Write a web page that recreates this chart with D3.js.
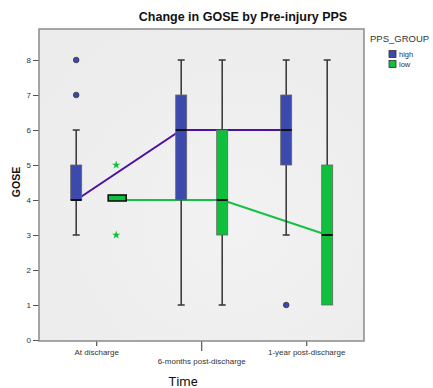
<!DOCTYPE html>
<html>
<head>
<meta charset="utf-8">
<script src="https://cdn.jsdelivr.net/npm/d3@7/dist/d3.min.js"></script>
<style>
  body { margin: 0; background: #fff; }
  svg { display: block; font-family: "Liberation Sans", Arial, sans-serif; }
</style>
</head>
<body>
<svg id="chart" width="433" height="388"></svg>
<script>
// Time points and groups
const timepoints = ["At discharge", "6-months post-discharge", "1-year post-discharge"];
const groups = ["high", "low"];
const groupColors = ["#3c4aae", "#0fc03c"];
const lineColors = ["#4b10a6", "#14c046"];

// Box statistics per group, one entry per time point: [min, q1, median, q3, max]
const highStats = [
  [3, 4, 4, 5, 6],
  [1, 4, 6, 7, 8],
  [3, 5, 6, 7, 8]
];
const lowStats = [
  [4, 4, 4, 4, 4],
  [1, 3, 4, 6, 8],
  [1, 1, 3, 5, 8]
];
// Outliers (circles) and extremes (stars): [time index, value]
const highOutliers = [[0, 7], [0, 8], [2, 1]];
const lowExtremes = [[0, 5], [0, 3]];

const yTicks = [0, 1, 2, 3, 4, 5, 6, 7, 8];

const svg = d3.select("#chart");
const plot = { left: 39, right: 364, top: 29, bottom: 341 };

const defs = svg.append("defs");
const grad = defs.append("radialGradient").attr("id", "bg")
  .attr("cx", "60%").attr("cy", "62%").attr("r", "70%");
grad.append("stop").attr("offset", "0%").attr("stop-color", "#f2f2f2");
grad.append("stop").attr("offset", "100%").attr("stop-color", "#ececec");

svg.append("rect")
  .attr("x", plot.left).attr("y", plot.top)
  .attr("width", plot.right - plot.left).attr("height", plot.bottom - plot.top)
  .attr("fill", "url(#bg)");

const x = d3.scalePoint().domain(timepoints)
  .range([96.7, 306.7]);
const offset = d3.scalePoint().domain(groups).range([-20.5, 20.5]);
const y = d3.scaleLinear().domain([0, 8]).range([340, 60]);

// Y axis
const yAxis = d3.axisLeft(y).tickValues(yTicks).tickSize(6).tickPadding(2);
const yg = svg.append("g").attr("transform", `translate(${plot.left},0)`).call(yAxis);
yg.select(".domain").remove();
yg.selectAll("line").attr("stroke", "#555");
yg.selectAll("text").attr("font-size", 8).attr("fill", "#333");

// X axis ticks and labels
const xg = svg.append("g");
timepoints.forEach((t, i) => {
  const tickLen = i === 1 ? 10 : 5;
  xg.append("line").attr("x1", x(t)).attr("x2", x(t))
    .attr("y1", plot.bottom).attr("y2", plot.bottom + tickLen)
    .attr("stroke", "#555").attr("stroke-width", 1.2);
  xg.append("text").attr("x", x(t)).attr("y", i === 1 ? 364 : 355)
    .attr("text-anchor", "middle").attr("font-size", 8).attr("fill", "#333")
    .text(t);
});

// Frame
svg.append("rect")
  .attr("x", plot.left).attr("y", plot.top)
  .attr("width", plot.right - plot.left).attr("height", plot.bottom - plot.top)
  .attr("fill", "none").attr("stroke", "#8a8a8a").attr("stroke-width", 1.5);

// Median trend lines
const stats = [highStats, lowStats];
const lineGen = d3.line();
groups.forEach((g, gi) => {
  const pts = timepoints.map((t, i) => [x(t) + offset(g), y(stats[gi][i][2])]);
  svg.append("path").attr("d", lineGen(pts))
    .attr("fill", "none").attr("stroke", lineColors[gi]).attr("stroke-width", 2);
});

// Boxes
const boxW = 11;
const capW = 7;
groups.forEach((g, gi) => {
  timepoints.forEach((t, i) => {
    const [mn, q1, md, q3, mx] = stats[gi][i];
    const cx = x(t) + offset(g);
    const grp = svg.append("g");
    if (q1 === q3) {
      // Degenerate box: all quartiles coincide
      grp.append("rect").attr("x", cx - 9).attr("y", y(q1) - 5)
        .attr("width", 18).attr("height", 6)
        .attr("fill", groupColors[gi]).attr("stroke", "#111").attr("stroke-width", 1.6);
      return;
    }
    // Whiskers
    [[mn, q1], [q3, mx]].forEach(([a, b]) => {
      if (a === b) return;
      grp.append("line").attr("x1", cx).attr("x2", cx)
        .attr("y1", y(a)).attr("y2", y(b))
        .attr("stroke", "#333").attr("stroke-width", 1.5);
    });
    [mn, mx].forEach(v => {
      if (v === q1 || v === q3) return;
      grp.append("line").attr("x1", cx - capW / 2).attr("x2", cx + capW / 2)
        .attr("y1", y(v)).attr("y2", y(v))
        .attr("stroke", "#333").attr("stroke-width", 1.5);
    });
    grp.append("rect").attr("x", cx - boxW / 2).attr("y", y(q3))
      .attr("width", boxW).attr("height", y(q1) - y(q3))
      .attr("fill", groupColors[gi]).attr("stroke", "#666").attr("stroke-width", 0.8);
    grp.append("line").attr("x1", cx - boxW / 2).attr("x2", cx + boxW / 2)
      .attr("y1", y(md)).attr("y2", y(md))
      .attr("stroke", "#111").attr("stroke-width", 2);
  });
});

// Outliers
highOutliers.forEach(([i, v]) => {
  svg.append("circle").attr("cx", x(timepoints[i]) + offset("high")).attr("cy", y(v))
    .attr("r", 2.8).attr("fill", groupColors[0]).attr("stroke", "#333").attr("stroke-width", 0.8);
});
// Extremes
const star = d3.symbol().type(d3.symbolStar).size(22);
lowExtremes.forEach(([i, v]) => {
  svg.append("path").attr("d", star())
    .attr("transform", `translate(${x(timepoints[i]) + offset("low") - 1},${y(v)})`)
    .attr("fill", groupColors[1]);
});

// Titles
svg.append("text").attr("x", 243).attr("y", 21).attr("text-anchor", "middle")
  .attr("font-size", 12.5).attr("font-weight", "bold").attr("fill", "#111")
  .text("Change in GOSE by Pre-injury PPS");
svg.append("text").attr("transform", "translate(20,182) rotate(-90)")
  .attr("text-anchor", "middle").attr("font-size", 10.5).attr("font-weight", "bold").attr("fill", "#111")
  .text("GOSE");
svg.append("text").attr("x", 183).attr("y", 386).attr("text-anchor", "middle")
  .attr("font-size", 13).attr("fill", "#111").attr("font-family", "Roboto, sans-serif")
  .text("Time");

// Legend
svg.append("text").attr("x", 370).attr("y", 42).attr("font-size", 9.5).attr("fill", "#333")
  .text("PPS_GROUP");
groups.forEach((g, gi) => {
  const ly = 50.5 + gi * 10;
  svg.append("rect").attr("x", 389).attr("y", ly).attr("width", 7).attr("height", 7)
    .attr("fill", groupColors[gi]).attr("stroke", "#333").attr("stroke-width", 0.8);
  svg.append("text").attr("x", 399).attr("y", ly + 6.5).attr("font-size", 7.5).attr("fill", "#333")
    .text(g);
});
</script>
</body>
</html>
